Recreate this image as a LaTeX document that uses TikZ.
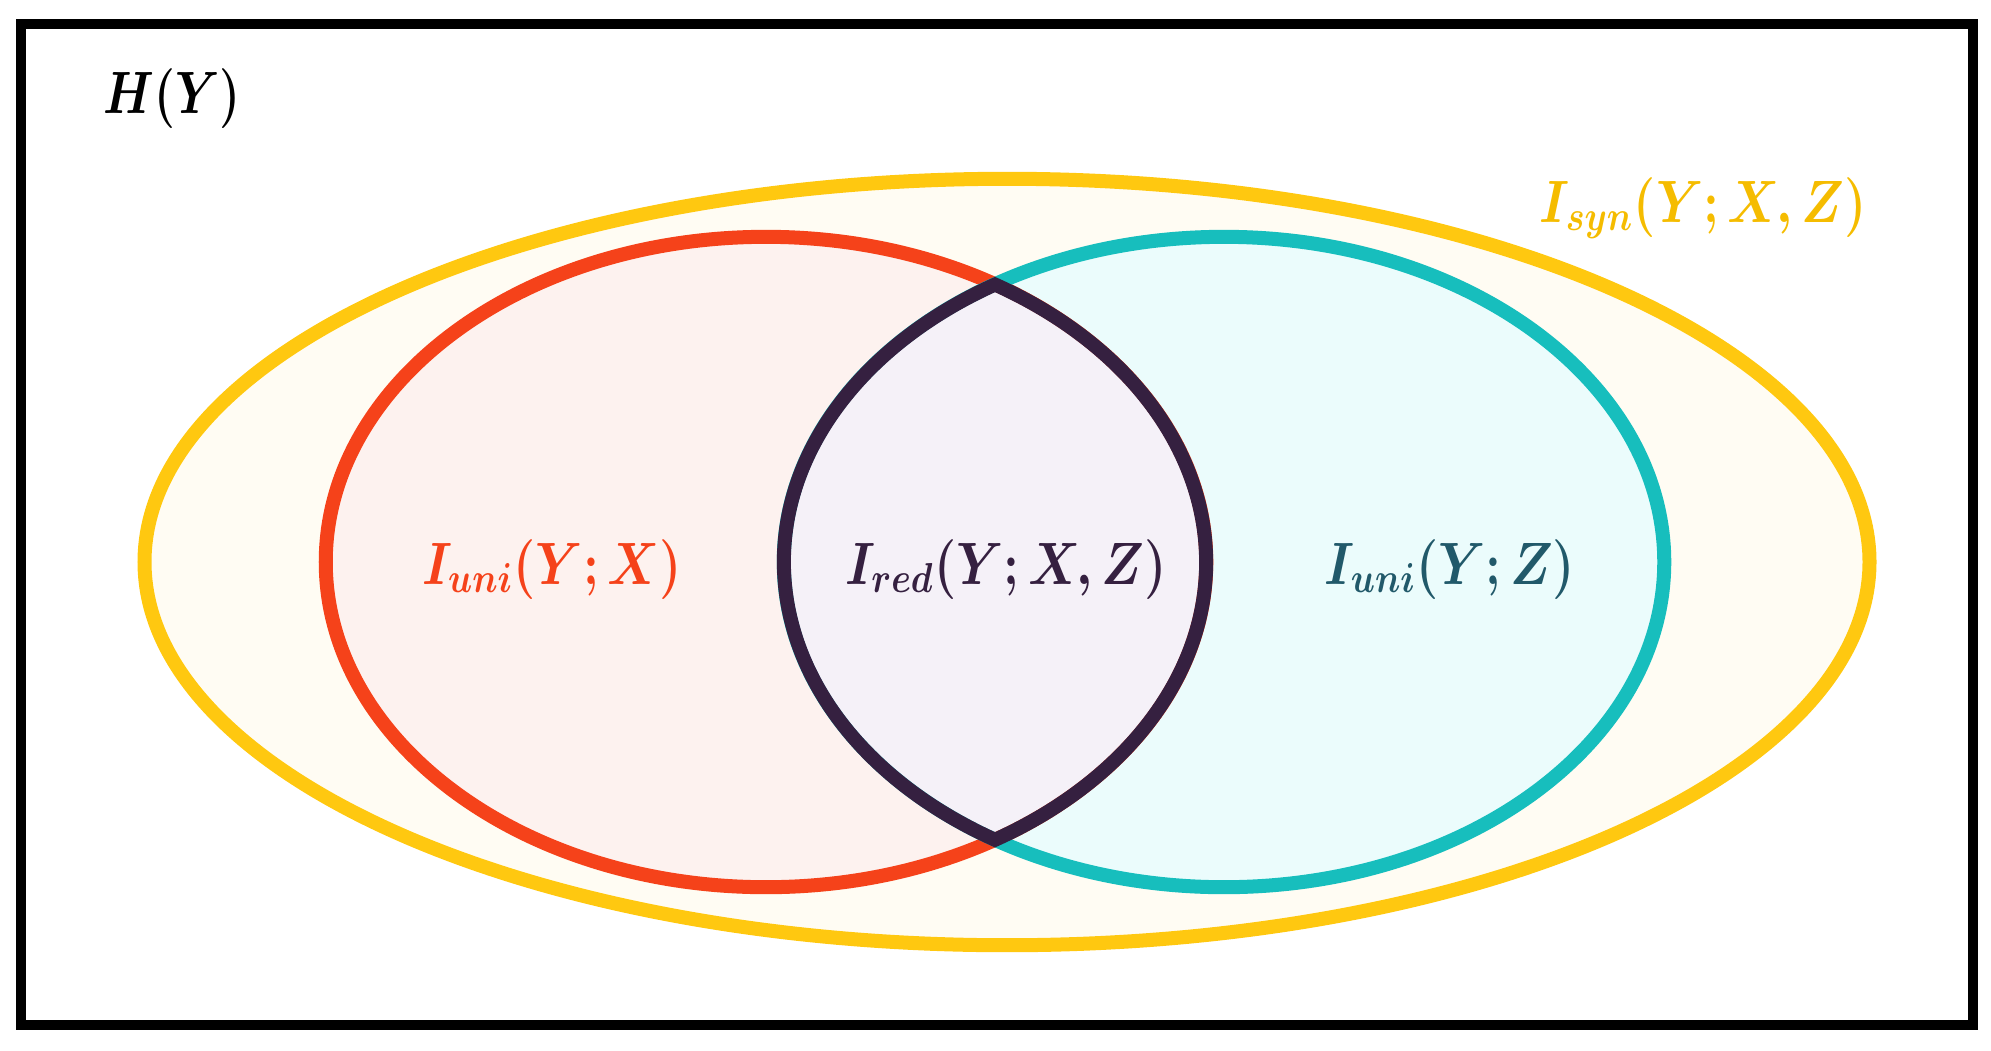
\RequirePackage{fix-cm}
\documentclass[tikz,border=0pt]{standalone}
\usepackage{amsmath,bm,graphicx}
\definecolor{ylw}{HTML}{FFC810}
\definecolor{ylwfill}{HTML}{FFFCF3}
\definecolor{ylwtext}{HTML}{F5BC00}
\definecolor{redl}{HTML}{F5421A}
\definecolor{redfill}{HTML}{FDF2EF}
\definecolor{cyl}{HTML}{17BEBD}
\definecolor{cyfill}{HTML}{EBFCFC}
\definecolor{cytext}{HTML}{21596A}
\definecolor{dark}{HTML}{352040}
\definecolor{lensfill}{HTML}{F5F1F8}
\newcommand{\narrowm}[2][0.85]{\scalebox{#1}[1]{$\bm{#2}$}}
\begin{document}
\begin{tikzpicture}[x=0.01cm,y=0.01cm,
  ring/.style={line width=0.14cm},
  lbl/.style={anchor=base,inner sep=0pt,font=\fontsize{17}{20}\selectfont}]
\useasboundingbox (0,0) rectangle (1991,1050);
\draw[line width=0.1cm] (21,25) rectangle (1973,1026);
% synergy ellipse
\filldraw[ring,draw=ylw,fill=ylwfill] (1007,488) ellipse [x radius=8.62cm, y radius=3.83cm];
% fills
\fill[redfill] (766,488) ellipse [x radius=4.4cm, y radius=3.25cm];
\fill[cyfill] (1224,488) ellipse [x radius=4.4cm, y radius=3.25cm];
\begin{scope}
  \clip (766,488) ellipse [x radius=4.4cm, y radius=3.25cm];
  \fill[lensfill] (1224,488) ellipse [x radius=4.4cm, y radius=3.25cm];
\end{scope}
% outlines
\draw[ring,draw=redl] (766,488) ellipse [x radius=4.4cm, y radius=3.25cm];
\draw[ring,draw=cyl] (1224,488) ellipse [x radius=4.4cm, y radius=3.25cm];
\coordinate (lt) at (995,765.5);
\draw[ring,draw=dark,line join=miter] (lt)
  arc[start angle=58.63, end angle=-58.63, x radius=4.4cm, y radius=3.25cm]
  arc[start angle=238.63, end angle=121.37, x radius=4.4cm, y radius=3.25cm]
  -- cycle;
% labels
\node[lbl] (hy) at (172,937) {\narrowm[0.8]{H(Y)}};
\node[lbl,text=ylwtext] (syn) at (1703,828) {\narrowm{I_{syn}(Y;X,Z)}};
\node[lbl,text=redl] (ux) at (552,466) {\narrowm{I_{uni}(Y;X)}};
\node[lbl,text=dark] (rd) at (1006,466) {\narrowm{I_{red}(Y;X,Z)}};
\node[lbl,text=cytext] (uz) at (1450,466) {\narrowm{I_{uni}(Y;Z)}};
\end{tikzpicture}
\end{document}
